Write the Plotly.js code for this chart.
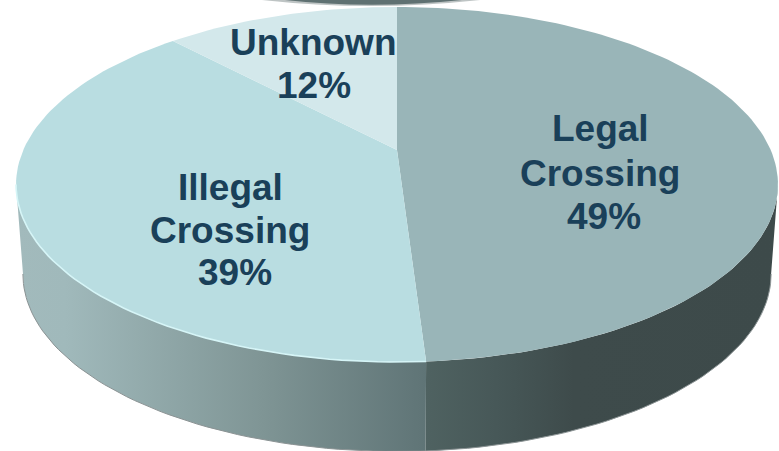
<!DOCTYPE html>
<html>
<head>
<meta charset="utf-8">
<script src="https://cdn.plot.ly/plotly-3.0.0.min.js"></script>
<style>html,body{margin:0;padding:0;background:#fff}#chart{width:779px;height:451px}</style>
</head>
<body>
<div id="chart"></div>
<script>
// Data
const categories = ["Legal Crossing", "Illegal Crossing", "Unknown"];
const values = [49, 39, 12];
const labelLines = [["Legal", "Crossing", "49%"], ["Illegal", "Crossing", "39%"], ["Unknown", "12%"]];

// Style
const faceColors = ["#99b5b8", "#b9dde1", "#d3e8eb"];
const textColor = "#1a4059";

// Perspective model of the tilted disc (pixel axes)
const cx = 397, apexY = 150, k = 0.1943, a = 373.7, b = 170.8;
const depth = 89.5, lowerScale = 0.982;

function project(deg, lower) {
  const t = deg * Math.PI / 180, u = Math.sin(t), v = -Math.cos(t), w = 1 - k * v;
  const s = lower ? lowerScale : 1;
  return [cx + s * a * u / w, apexY + (lower ? depth : 0) + b * v / w];
}
function arc(d0, d1, lower) {
  const n = Math.max(2, Math.ceil(Math.abs(d1 - d0) / 1.5)), xs = [], ys = [];
  for (let i = 0; i <= n; i++) {
    const p = project(d0 + (d1 - d0) * i / n, lower);
    xs.push(p[0]); ys.push(p[1]);
  }
  return [xs, ys];
}

const total = values.reduce((s, x) => s + x, 0);
const edges = [0];
values.forEach((x, i) => edges.push(edges[i] + x / total * 360));

const rightLimit = Math.acos(-k) * 180 / Math.PI, leftLimit = 360 - rightLimit;
const traces = [];

function wall(d0, d1, stops) {
  const up = arc(d0, d1, false), lo = arc(d1, d0, true);
  traces.push({
    type: "scatter", mode: "lines", hoverinfo: "skip",
    x: up[0].concat(lo[0]), y: up[1].concat(lo[1]),
    fill: "toself", line: {width: 0},
    fillgradient: {type: "horizontal", colorscale: stops}
  });
}
// Visible side walls
wall(edges[1], leftLimit, [[0, "#a2babc"], [0.12, "#a0b9bb"], [0.6, "#7f9595"], [1, "#5f7476"]]);
wall(rightLimit, edges[1], [[0, "#4f6261"], [0.2, "#475858"], [0.42, "#3e4b4b"], [1, "#3d4a4a"]]);

// Bottom edge of the wall
const bottom = arc(rightLimit, leftLimit, true);
traces.push({type: "scatter", mode: "lines", hoverinfo: "skip", x: bottom[0], y: bottom[1], line: {color: "#8b9394", width: 1}});

// Top face slices
values.forEach((val, i) => {
  const ar = arc(edges[i], edges[i + 1], false);
  traces.push({
    type: "scatter", mode: "lines", name: categories[i], hoverinfo: "name",
    x: [cx].concat(ar[0], [cx]), y: [apexY].concat(ar[1], [apexY]),
    fill: "toself", fillcolor: faceColors[i], line: {width: 0}
  });
});

// Highlight on the rim of the light slice
const rim = arc(edges[1], leftLimit, false);
traces.push({type: "scatter", mode: "lines", hoverinfo: "skip", x: rim[0], y: rim[1], line: {color: "#d6f5f7", width: 1.6}});

// Label placement per line: centre x, centre y
const labelPlace = [
  [[600, 128], [600, 173], [604, 216]],
  [[230, 187], [230, 230], [235, 272]],
  [[313, 42], [314, 85]]
];
const fontSize = 37;
const annotations = [];
labelLines.forEach((lines, i) => {
  lines.forEach((line, j) => {
    annotations.push({
      x: labelPlace[i][j][0], y: labelPlace[i][j][1],
      xref: "x", yref: "y", text: line, showarrow: false,
      xanchor: "center", yanchor: "middle",
      font: {family: "'Liberation Sans', Arial, sans-serif", size: fontSize, color: textColor, weight: 700}
    });
  });
});

const layout = {
  width: 779, height: 451,
  margin: {l: 0, r: 0, t: 0, b: 0},
  paper_bgcolor: "#ffffff", plot_bgcolor: "#ffffff",
  showlegend: false,
  xaxis: {visible: false, range: [0, 779], fixedrange: true},
  yaxis: {visible: false, range: [451, 0], fixedrange: true},
  annotations: annotations,
  shapes: [
    {type: "path", layer: "below", path: "M 262 0 Q 370 12 480 0 Z", fillcolor: "rgba(70,85,85,0.35)", line: {width: 0}},
    {type: "path", layer: "below", path: "M 285 0 Q 370 9.5 462 0 Z", fillcolor: "#5f7172", line: {width: 0}}
  ]
};
Plotly.newPlot("chart", traces, layout, {displayModeBar: false});
</script>
</body>
</html>
